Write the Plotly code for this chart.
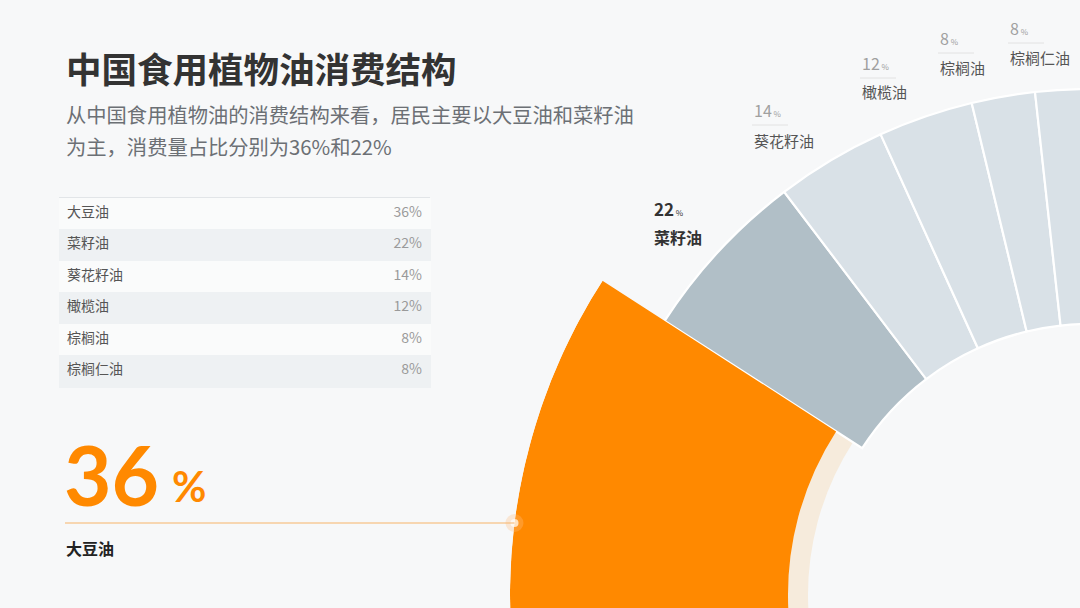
import math
import plotly.graph_objects as go

# ---------------- data ----------------
categories = ["大豆油", "菜籽油", "葵花籽油", "橄榄油", "棕榈油", "棕榈仁油"]
shares = [36, 22, 14, 12, 8, 8]
title_text = "中国食用植物油消费结构"
subtitle_lines = ["从中国食用植物油的消费结构来看，居民主要以大豆油和菜籽油",
                  "为主，消费量占比分别为36%和22%"]

# ---------------- style / layout constants ----------------
VIEW_W, VIEW_H = 1080, 608      # visible page
W, H = 1100, 650                # figure is a bit larger; page crops the overflow
BG = "#f7f8f9"
ORANGE = "#ff8900"
GRAY_DARK = "#b1bfc7"
GRAY_LIGHT = "#d9e1e7"
BEIGE = "#f6ebdc"
CJK = "Noto Sans CJK SC"

CX, CY = 1090, 595      # pie centre in page pixels
THETA0 = 147.2          # angle of the boundary between the first and second slice
DEG_PER_PCT = 0.91      # angular scale
HI_EXTRA = 3.0          # extra angular emphasis of highlighted slice (outer side)
R_MAX = 580             # radial axis range (outer radius of highlighted slice)
R_IN = 271              # inner radius of normal slices
R_OUT = 506             # outer radius of normal slices
R_IN_HI = 302           # inner radius of highlighted slice
RING_W = 20             # width of the beige ring under highlighted slice
SECTOR_END = 185.0
SECTOR = [90, SECTOR_END]
DOM_X = [(CX - R_MAX) / W, CX / W]
DOM_Y = [1 - (CY + R_MAX * math.sin(math.radians(SECTOR_END - 180))) / H,
         1 - (CY - R_MAX) / H]


def px(x, y):
    return x / W, 1 - y / H


# slice geometry derived from shares
cum = [0]
for v in shares[1:]:
    cum.append(cum[-1] + v)
hi_width = shares[0] * DEG_PER_PCT + HI_EXTRA
hi_theta = THETA0 + hi_width / 2
rest_theta = []
rest_width = []
for i, v in enumerate(shares[1:]):
    start = THETA0 - DEG_PER_PCT * cum[i]
    rest_width.append(v * DEG_PER_PCT)
    rest_theta.append(start - v * DEG_PER_PCT / 2)
rest_colors = [GRAY_DARK] + [GRAY_LIGHT] * (len(shares) - 2)

fig = go.Figure()

# beige ring under highlighted slice
fig.add_trace(go.Barpolar(
    r=[RING_W], base=[R_IN_HI - RING_W], theta=[hi_theta], width=[hi_width],
    marker=dict(color=BEIGE, line=dict(width=0)), hoverinfo="skip", showlegend=False))

# other slices
fig.add_trace(go.Barpolar(
    r=[R_OUT - R_IN] * len(rest_theta), base=[R_IN] * len(rest_theta),
    theta=rest_theta, width=rest_width,
    marker=dict(color=rest_colors, line=dict(color="#ffffff", width=2.2)),
    text=categories[1:], hoverinfo="text", showlegend=False))

# highlighted slice
fig.add_trace(go.Barpolar(
    r=[R_MAX - R_IN_HI], base=[R_IN_HI], theta=[hi_theta], width=[hi_width],
    marker=dict(color=ORANGE, line=dict(width=0)),
    text=[categories[0]], hoverinfo="text", showlegend=False))

# connector dot on highlighted slice edge
LINE_Y = 523
dot_theta = 180 - math.degrees(math.asin((CY - LINE_Y) / R_MAX))
dot_x = CX - R_MAX * math.cos(math.radians(180 - dot_theta))
fig.add_trace(go.Scatterpolar(
    r=[R_MAX, R_MAX], theta=[dot_theta, dot_theta], mode="markers",
    marker=dict(size=[18, 8], color=["rgba(255,190,130,0.45)", "#ffffff"], line=dict(width=0)),
    hoverinfo="skip", showlegend=False, cliponaxis=False))

# table
row_fill = ["#fafbfb" if i % 2 == 0 else "#eef1f3" for i in range(len(categories))]
fig.add_trace(go.Table(
    domain=dict(x=[px(59, 0)[0], px(430, 0)[0]], y=[px(0, 389)[1], px(0, 197)[1]]),
    columnwidth=[3, 1],
    header=dict(values=["", ""], height=1, fill_color="#e2e5e8", line=dict(width=0),
                font=dict(size=1)),
    cells=dict(values=[categories, [f"{v}%" for v in shares]],
               height=31.5, align=["left", "right"],
               fill_color=[row_fill, row_fill],
               line=dict(color=[row_fill, row_fill], width=1),
               font=dict(family=CJK, size=14, color=["#555555", "#9a9a9a"]))))

annotations = []
shapes = []

# title + subtitle
x, y = px(64, 68)
annotations.append(dict(x=x, y=y, text=f"<b>{title_text}</b>", showarrow=False,
                        xanchor="left", yanchor="middle",
                        font=dict(family=CJK, size=35.5, color="#333333")))
for i, line in enumerate(subtitle_lines):
    x, y = px(64, 114 + 32 * i)
    annotations.append(dict(x=x, y=y, text=line, showarrow=False,
                            xanchor="left", yanchor="middle",
                            font=dict(family=CJK, size=20.3, color="#6c7075")))

# big highlight number
x, y = px(62, 474)
annotations.append(dict(x=x, y=y, text=f"<b>{shares[0]}</b>", showarrow=False,
                        xanchor="left", yanchor="middle",
                        font=dict(family="Lato", size=82, color=ORANGE)))
x, y = px(170, 486)
annotations.append(dict(x=x, y=y, text="<b>%</b>", showarrow=False,
                        xanchor="left", yanchor="middle",
                        font=dict(family="Lato", size=42, color=ORANGE)))
x, y = px(64, 548)
annotations.append(dict(x=x, y=y, text=f"<b>{categories[0]}</b>", showarrow=False,
                        xanchor="left", yanchor="middle",
                        font=dict(family=CJK, size=16, color="#222222")))
x0, y0 = px(65, LINE_Y)
x1, _ = px(dot_x, LINE_Y)
shapes.append(dict(type="line", xref="paper", yref="paper", x0=x0, x1=x1, y0=y0, y1=y0,
                   line=dict(color="#f8b46a", width=1.2)))

# slice labels (left x, number y, name y)
label_pos = [(652, 208, 237), (752, 110, 140), (860, 63, 92), (938, 38, 68), (1008, 28, 57)]
for i, (lx, ny, ty) in enumerate(label_pos):
    cat = categories[i + 1]
    val = shares[i + 1]
    strong = i == 0
    num_col = "#333333" if strong else "#a0a0a0"
    name_col = "#333333" if strong else "#555555"
    num_txt = (f"<b>{val}</b>" if strong else f"{val}") + \
        f"<span style='font-size:8px'> %</span>"
    x, y = px(lx, ny)
    annotations.append(dict(x=x, y=y, text=num_txt, showarrow=False,
                            xanchor="left", yanchor="middle",
                            font=dict(family=CJK, size=17 if strong else 16, color=num_col)))
    x, y = px(lx, ty)
    annotations.append(dict(x=x, y=y, text=(f"<b>{cat}</b>" if strong else cat),
                            showarrow=False, xanchor="left", yanchor="middle",
                            font=dict(family=CJK, size=16 if strong else 15, color=name_col)))
    if not strong:
        a0, b0 = px(lx, ny + 15)
        a1, _ = px(lx + 36, ny + 15)
        shapes.append(dict(type="line", xref="paper", yref="paper", x0=a0, x1=a1, y0=b0, y1=b0,
                           line=dict(color="#e2e2e2", width=1)))

fig.update_layout(
    width=W, height=H,
    margin=dict(l=0, r=0, t=0, b=0),
    paper_bgcolor=BG, plot_bgcolor=BG,
    showlegend=False,
    polar=dict(
        domain=dict(x=DOM_X, y=DOM_Y),
        sector=SECTOR,
        bgcolor="rgba(0,0,0,0)",
        radialaxis=dict(range=[0, R_MAX], visible=False, showgrid=False, showline=False,
                        showticklabels=False, ticks=""),
        angularaxis=dict(visible=False, showgrid=False, showline=False, showticklabels=False,
                         ticks="", rotation=0, direction="counterclockwise"),
        bargap=0,
    ),
    annotations=annotations,
    shapes=shapes,
)

fig.write_html("out.html", config={"displayModeBar": False},
               post_script="document.body.style.margin='0';"
                           "document.body.style.overflow='hidden';"
                           "document.body.style.background='" + BG + "';")
